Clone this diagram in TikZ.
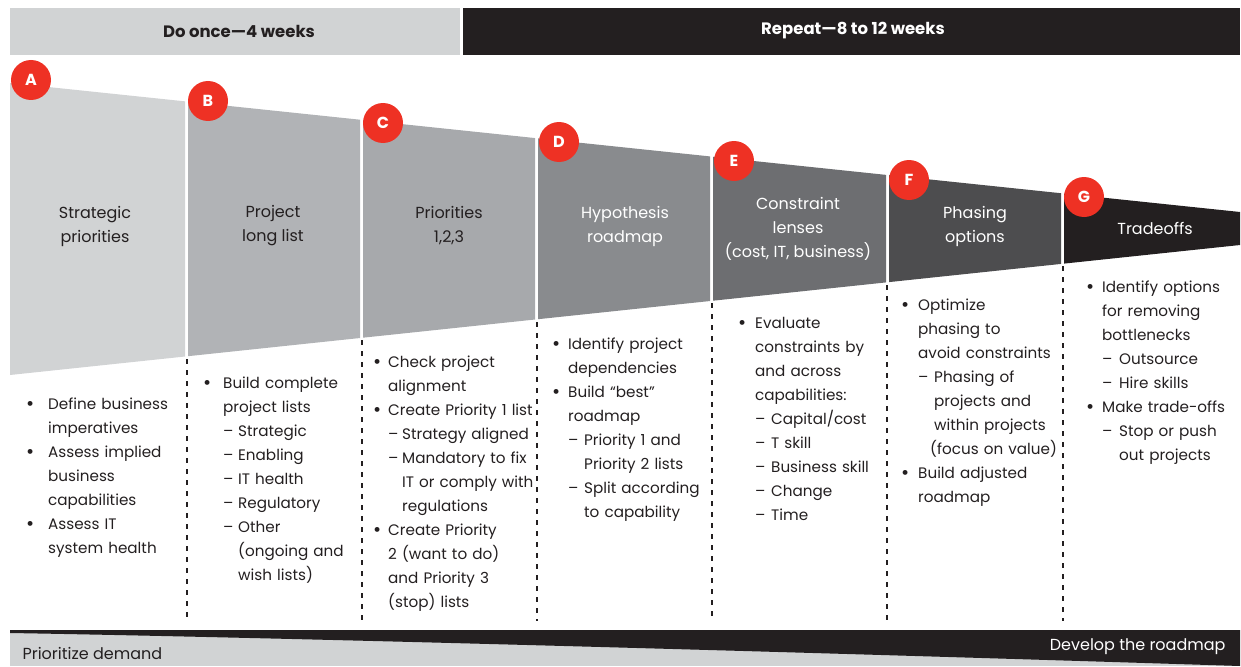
\documentclass[tikz,border=0pt]{standalone}
\usepackage{fontspec}
\setmainfont{Poppins}
\usetikzlibrary{positioning}
\definecolor{ink}{HTML}{231F20}
\definecolor{headgray}{HTML}{D1D3D4}
\definecolor{badgered}{HTML}{EE3124}
\definecolor{panelA}{HTML}{D1D3D4}
\definecolor{panelB}{HTML}{B1B3B6}
\definecolor{panelC}{HTML}{A7A9AC}
\definecolor{panelD}{HTML}{898B8E}
\definecolor{panelE}{HTML}{6D6E71}
\definecolor{panelF}{HTML}{4D4D4F}
\definecolor{panelG}{HTML}{231F20}
\newlength\itemgap
\newlength\dashgap
\newcommand\dotmark{\raisebox{-0.08ex}{\scalebox{1.3}{\textbullet}}}
\newcommand\bl[1]{\makebox[\itemgap][l]{\dotmark}#1}
\newcommand\cl[1]{\hspace*{\itemgap}#1}
\newcommand\dl[1]{\hspace*{\itemgap}\makebox[\dashgap][l]{--}#1}
\newcommand\dc[1]{\hspace*{\itemgap}\hspace*{\dashgap}#1}
\tikzset{
    badge/.style = {circle, fill=badgered, text=white, minimum size=40pt, inner sep=0pt, font=\bfseries\fontsize{16}{16}\selectfont},
    headtext/.style = {font=\bfseries\fontsize{16.5}{18}\selectfont},
    titledark/.style = {align=center, text=ink, font=\fontsize{16}{24}\selectfont},
    titlelight/.style = {align=center, text=white, font=\fontsize{16}{24}\selectfont},
    listnode/.style = {anchor=north west, inner sep=0pt, text width=200pt, align=left, text=ink, font=\fontsize{15.2}{24}\selectfont},
    gaps/.code args = {#1 and #2}{\setlength\itemgap{#1pt}\setlength\dashgap{#2pt}},
    divider/.style = {ink, line width=1.1pt, dash pattern=on 5pt off 6pt},
    bartext/.style = {font=\fontsize{16}{18}\selectfont}
}

\begin{document}
\begin{tikzpicture}[x=1pt, y=-1pt]
  \useasboundingbox (0,0) rectangle (1241,666);
  % header bars
  \fill[headgray] (10,8) rectangle (460,55);
  \fill[ink] (463,8) rectangle (1240,55);
  \node[headtext, text=ink] (once) at (239,31) {Do once---4 weeks};
  \node[headtext, text=white] (repeat) at (853,31) {Repeat---8 to 12 weeks};
  % funnel panels
  \foreach \xa/\xb/\col in {10/185/panelA, 188/360/panelB, 363/535/panelC, 538/710/panelD, 713/886/panelE, 889/1061/panelF, 1064/1240/panelG} {
    \pgfmathsetmacro\ta{83+0.10488*(\xa-10)}
    \pgfmathsetmacro\tb{83+0.10488*(\xb-10)}
    \pgfmathsetmacro\ba{375-0.10569*(\xa-10)}
    \pgfmathsetmacro\bb{375-0.10569*(\xb-10)}
    \fill[\col] (\xa,\ta) -- (\xb,\tb) -- (\xb,\bb) -- (\xa,\ba) -- cycle;
  }
  % dividers
  \foreach \xd/\yd in {187/359, 362/340, 537/322, 712/303, 887/285, 1063/266} {
    \draw[divider] (\xd,\yd) -- (\xd,621);
  }
  % badges
  \node[badge] (a) at (31,80) {A};
  \node[badge] (b) at (208,101) {B};
  \node[badge] (c) at (383,123) {C};
  \node[badge] (d) at (559,142) {D};
  \node[badge] (e) at (734,161) {E};
  \node[badge] (f) at (909,180) {F};
  \node[badge] (g) at (1084,197) {G};
  % panel titles
  \node[titledark] (ta) at (95,226) {Strategic\\priorities};
  \node[titledark] (tb) at (273,226) {Project\\long list};
  \node[titledark] (tc) at (449,226) {Priorities\\1,2,3};
  \node[titlelight] (td) at (625,226) {Hypothesis\\roadmap};
  \node[titlelight] (te) at (798,229) {Constraint\\lenses\\(cost, IT, business)};
  \node[titlelight] (tf) at (975,226) {Phasing\\options};
  \node[titlelight] (tg) at (1155,228) {Tradeoffs};
  % activity lists
  \node[listnode, gaps=22 and 15] (la) at (26,398) {\bl{Define business}\\\cl{imperatives}\\\bl{Assess implied}\\\cl{business}\\\cl{capabilities}\\\bl{Assess IT}\\\cl{system health}};
  \node[listnode, gaps=20 and 15] (lb) at (203,377) {\bl{Build complete}\\\cl{project lists}\\\dl{Strategic}\\\dl{Enabling}\\\dl{IT health}\\\dl{Regulatory}\\\dl{Other}\\\dc{(ongoing and}\\\dc{wish lists)}};
  \node[listnode, gaps=15 and 14] (lc) at (373,356) {\bl{Check project}\\\cl{alignment}\\\bl{Create Priority 1 list}\\\dl{Strategy aligned}\\\dl{Mandatory to fix}\\\dc{IT or comply with}\\\dc{regulations}\\\bl{Create Priority}\\\cl{2 (want to do)}\\\cl{and Priority 3}\\\cl{(stop) lists}};
  \node[listnode, gaps=16 and 16] (ld) at (552,338) {\bl{Identify project}\\\cl{dependencies}\\\bl{Build “best”}\\\cl{roadmap}\\\dl{Priority 1 and}\\\dc{Priority 2 lists}\\\dl{Split according}\\\dc{to capability}};
  \node[listnode, gaps=17 and 16] (le) at (738,317) {\bl{Evaluate}\\\cl{constraints by}\\\cl{and across}\\\cl{capabilities:}\\\dl{Capital/cost}\\\dl{T skill}\\\dl{Business skill}\\\dl{Change}\\\dl{Time}};
  \node[listnode, gaps=17 and 16] (lf) at (901,299) {\bl{Optimize}\\\cl{phasing to}\\\cl{avoid constraints}\\\dl{Phasing of}\\\dc{projects and}\\\dc{within projects}\\\dc{\hspace*{-4pt}(focus on value)}\\\bl{Build adjusted}\\\cl{roadmap}};
  \node[listnode, gaps=16 and 17] (lg) at (1086,281) {\bl{Identify options}\\\cl{for removing}\\\cl{bottlenecks}\\\dl{Outsource}\\\dl{Hire skills}\\\bl{Make trade-offs}\\\dl{Stop or push}\\\dc{out projects}};
  % bottom bar
  \fill[headgray] (10,630) rectangle (1240,666);
  \fill[ink] (10,630) -- (1240,630) -- (1240,666) .. controls (800,652) and (300,638) .. (10,633) -- cycle;
  \node[bartext, text=ink, anchor=west] (demand) at (19,653) {Prioritize demand};
  \node[bartext, text=white, anchor=east] (roadmap) at (1229,647) {Develop the roadmap};
\end{tikzpicture}
\end{document}
